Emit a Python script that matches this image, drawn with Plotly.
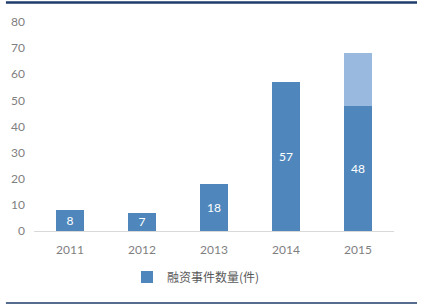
import plotly.graph_objects as go

years = ["2011", "2012", "2013", "2014", "2015"]
events = [8, 7, 18, 57, 48]
extra = [0, 0, 0, 0, 20]
y_ticks = [0, 10, 20, 30, 40, 50, 60, 70, 80]

font_family = "Lato, Noto Sans CJK SC, sans-serif"
cjk_family = "Noto Sans CJK SC, sans-serif"

fig = go.Figure()
fig.add_trace(go.Bar(
    x=years, y=events, name="融资事件数量(件)",
    marker=dict(color="#4F87BD", line=dict(width=0)),
    text=[str(v) for v in events], textposition="inside",
    insidetextanchor="middle", textangle=0, constraintext="none",
    textfont=dict(color="white", size=12, family=font_family),
    width=0.39,
))
fig.add_trace(go.Bar(
    x=years, y=extra, name="", showlegend=False,
    marker=dict(color="#9AB9DF", line=dict(width=0)),
    width=0.39, hoverinfo="skip",
))

fig.update_layout(
    barmode="stack",
    width=425, height=306,
    margin=dict(l=34, r=31, t=22, b=75, autoexpand=False),
    paper_bgcolor="white", plot_bgcolor="white",
    font=dict(family=font_family, size=12, color="#7F7F7F"),
    showlegend=True,
    legend=dict(orientation="h", x=0.45, xanchor="center", y=-0.22, yanchor="middle",
                bgcolor="rgba(0,0,0,0)",
                font=dict(size=12, color="#595959", family=cjk_family),
                itemwidth=30),
    xaxis=dict(showline=True, linecolor="#D9D9D9", linewidth=1, ticks="",
               tickfont=dict(size=12, color="#7F7F7F"), ticklabelstandoff=8),
    yaxis=dict(range=[0, 80], tickvals=y_ticks, showgrid=False, zeroline=False,
               showline=False, tickfont=dict(size=12, color="#7F7F7F"),
               ticklabelstandoff=8),
    shapes=[
        dict(type="line", xref="paper", yref="paper", x0=-0.078, x1=1.064,
             y0=1.093, y1=1.093, line=dict(color="#1F3D6B", width=2.5)),
        dict(type="line", xref="paper", yref="paper", x0=-0.078, x1=1.064,
             y0=-0.345, y1=-0.345, line=dict(color="#1F3D6B", width=1.5)),
    ],
)

fig.write_html("out.html")
